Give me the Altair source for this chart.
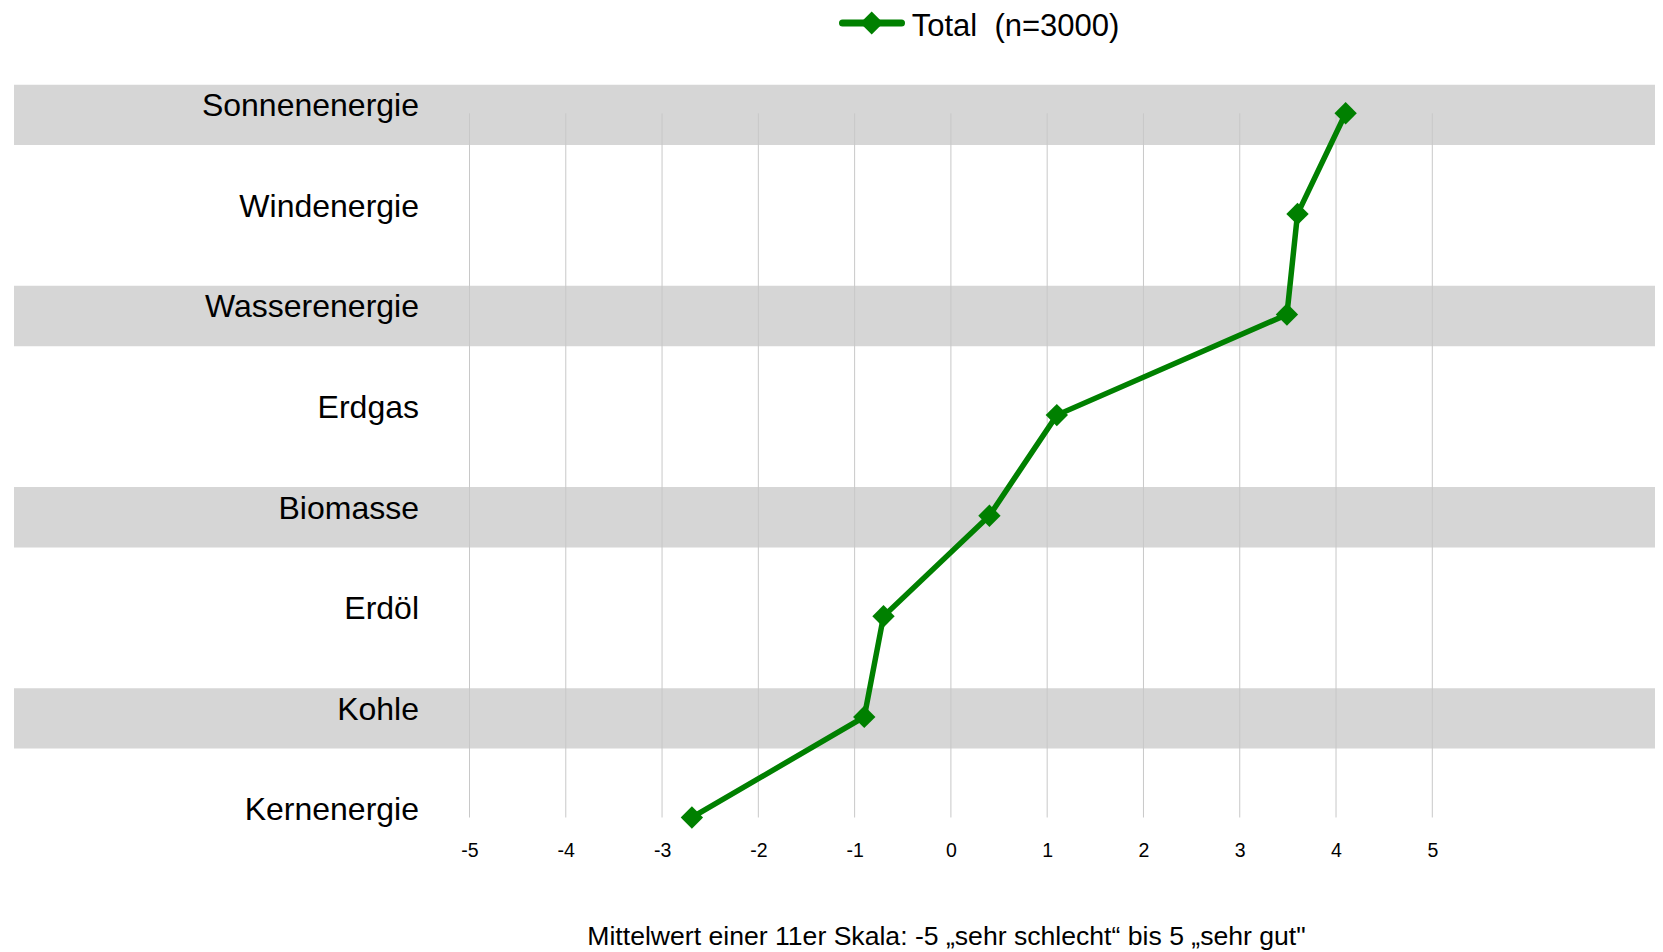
import altair as alt
import pandas as pd

# ---- data ----
categories = ["Sonnenenergie", "Windenergie", "Wasserenergie", "Erdgas",
              "Biomasse", "Erdöl", "Kohle", "Kernenergie"]
values = [4.10, 3.60, 3.49, 1.10, 0.40, -0.70, -0.90, -2.69]
tick_values = [-5, -4, -3, -2, -1, 0, 1, 2, 3, 4, 5]
series_name = "Total\u00a0\u00a0(n=3000)"
x_title = "Mittelwert einer 11er Skala: -5 \u201esehr schlecht\u201c bis 5 \u201esehr gut\""

df = pd.DataFrame({"category": categories, "value": values,
                   "rank": list(range(len(categories)))})
ticks_df = pd.DataFrame({"tick": tick_values})
legend_df = pd.DataFrame({"series": [series_name]})

# ---- styling / layout ----
FONT = "Liberation Sans"
GREEN = "#008000"
W, H = 1641, 760
xscale = alt.Scale(domain=[-9.731, 7.313], nice=False, zero=False)
yscale = alt.Scale(domain=[-0.4304, 7.1243], reverse=True, nice=False, zero=False)
x_axis = alt.Axis(values=tick_values, title=x_title, grid=False, domain=False,
                  ticks=False, tickSize=0, labelFontSize=19.5, labelPadding=20,
                  labelExpr="'' + datum.value",
                  labelBaseline="middle", labelColor="black", labelFont=FONT,
                  labelFlush=False, labelOverlap=False,
                  titleFont=FONT, titleFontSize=26.6, titleFontWeight="normal",
                  titleColor="black", titleX=932, titleY=106,
                  titleAlign="center", titleBaseline="middle")

bands = alt.Chart(df).transform_filter("datum.rank % 2 == 0").transform_calculate(
    y_lo="datum.rank - 0.285", y_hi="datum.rank + 0.315"
).mark_rect(color="#d6d6d6").encode(
    x=alt.value(0), x2=alt.value(W),
    y=alt.Y("y_lo:Q", scale=yscale, axis=None), y2="y_hi:Q")

grid = alt.Chart(ticks_df).transform_calculate(
    y0="0", y1=str(len(categories) - 1)
).mark_rule(color="#c8c8c8", strokeWidth=1).encode(
    x=alt.X("tick:Q", scale=xscale, axis=x_axis),
    y=alt.Y("y0:Q", scale=yscale, axis=None), y2="y1:Q")

line = alt.Chart(df).mark_line(color=GREEN, strokeWidth=5.5).encode(
    x=alt.X("value:Q", scale=xscale, axis=x_axis),
    y=alt.Y("rank:Q", scale=yscale, axis=None),
    order="rank:Q")

points = alt.Chart(df).mark_point(shape="diamond", filled=True, size=500,
                                  color=GREEN, opacity=1).encode(
    x=alt.X("value:Q", scale=xscale, axis=x_axis),
    y=alt.Y("rank:Q", scale=yscale, axis=None))

labels = alt.Chart(df).mark_text(align="right", baseline="alphabetic", dy=3,
                                 fontSize=32, font=FONT, color="black").encode(
    x=alt.value(405),
    y=alt.Y("rank:Q", scale=yscale, axis=None),
    text="category:N")

leg_rule = alt.Chart(legend_df).mark_rule(color=GREEN, strokeWidth=7,
                                          strokeCap="round").encode(
    x=alt.value(828.5), x2=alt.value(887.5), y=alt.value(-47))
leg_point = alt.Chart(legend_df).mark_point(shape="diamond", filled=True, size=530,
                                            color=GREEN, opacity=1).encode(
    x=alt.value(857.7), y=alt.value(-47))
leg_text = alt.Chart(legend_df).mark_text(align="left", baseline="alphabetic",
                                          fontSize=31, font=FONT, color="black").encode(
    x=alt.value(897.7), y=alt.value(-33.9), text="series:N")

chart = alt.layer(bands, grid, line, points, labels, leg_rule, leg_point, leg_text).properties(
    width=W, height=H,
    padding={"left": 6, "top": 62, "right": 0, "bottom": 120},
    autosize=alt.AutoSizeParams(type="none"),
    background="white",
).configure_view(stroke=None)

chart.save("out.html", embed_options={"renderer": "svg", "actions": False})
